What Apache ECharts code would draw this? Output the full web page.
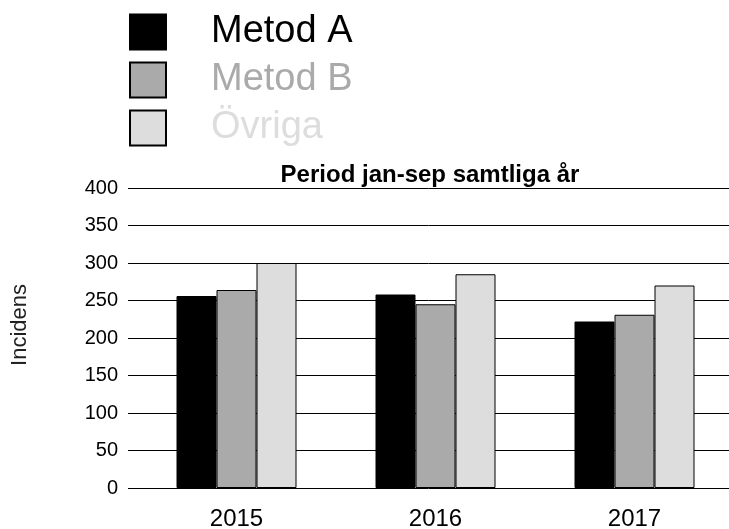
<!DOCTYPE html>
<html>
<head>
<meta charset="utf-8">
<script src="https://cdn.jsdelivr.net/npm/echarts@6/dist/echarts.min.js"></script>
<style>html,body{margin:0;padding:0;background:#fff;}#c{width:729px;height:529px;}</style>
</head>
<body>
<div id="c"></div>
<script>
const categories = ['2015', '2016', '2017'];
const metodA = [256, 258, 222];
const metodB = [264, 245, 231];
const ovriga = [300, 285, 270];
const seriesNames = ['Metod A', 'Metod B', 'Övriga'];
const seriesColors = ['#000000', '#aaaaaa', '#dddddd'];
const titleText = 'Period jan-sep samtliga år';
const yName = 'Incidens';

const FONT = 'Liberation Sans, Arial, sans-serif';
const chart = echarts.init(document.getElementById('c'), null, {renderer: 'canvas'});
const values = [metodA, metodB, ovriga];

chart.setOption({
  animation: false,
  backgroundColor: '#ffffff',
  title: {
    text: titleText,
    left: 425, top: 158, textAlign: 'center',
    textStyle: {fontFamily: FONT, fontSize: 24, fontWeight: 'bold', color: '#000'}
  },
  legend: {
    orient: 'vertical', left: 124, top: 8,
    icon: 'rect',
    itemWidth: 36, itemHeight: 35, itemGap: 10,
    data: seriesNames.map((n, i) => ({name: n, textStyle: {color: seriesColors[i]}})),
    textStyle: {fontFamily: FONT, fontSize: 38, padding: [4, 0, 0, 40]}
  },
  graphic: [{
    type: 'text', left: 9, top: 284, rotation: Math.PI / 2,
    style: {text: yName, font: '22px ' + FONT, fill: '#222'}
  }],
  grid: [
    {left: 128, right: 0, top: 188, height: 300, containLabel: false, outerBoundsMode: 'none'},
    {left: 137, width: 597, top: 188, height: 300, containLabel: false, outerBoundsMode: 'none'}
  ],
  xAxis: [
    {type: 'value', gridIndex: 0, min: 0, max: 1, show: false},
    {type: 'category', gridIndex: 1, data: categories,
     axisLine: {show: false},
     axisTick: {show: false},
     axisLabel: {fontFamily: FONT, fontSize: 24, color: '#000', margin: 19}}
  ],
  yAxis: [
    {type: 'value', gridIndex: 0, min: 0, max: 400, interval: 50,
     axisLine: {show: false}, axisTick: {show: false},
     axisLabel: {fontFamily: FONT, fontSize: 20, color: '#000', margin: 10},
     splitLine: {show: true, lineStyle: {color: '#000', width: 1}}},
    {type: 'value', gridIndex: 1, min: 0, max: 400, interval: 50, show: false,
     splitLine: {show: false}}
  ],
  series: seriesNames.map((n, i) => ({
    name: n, type: 'bar', xAxisIndex: 1, yAxisIndex: 1,
    data: values[i], barWidth: 40, barGap: '0%',
    itemStyle: {color: seriesColors[i], borderColor: '#000', borderWidth: 1}
  }))
});
</script>
</body>
</html>
